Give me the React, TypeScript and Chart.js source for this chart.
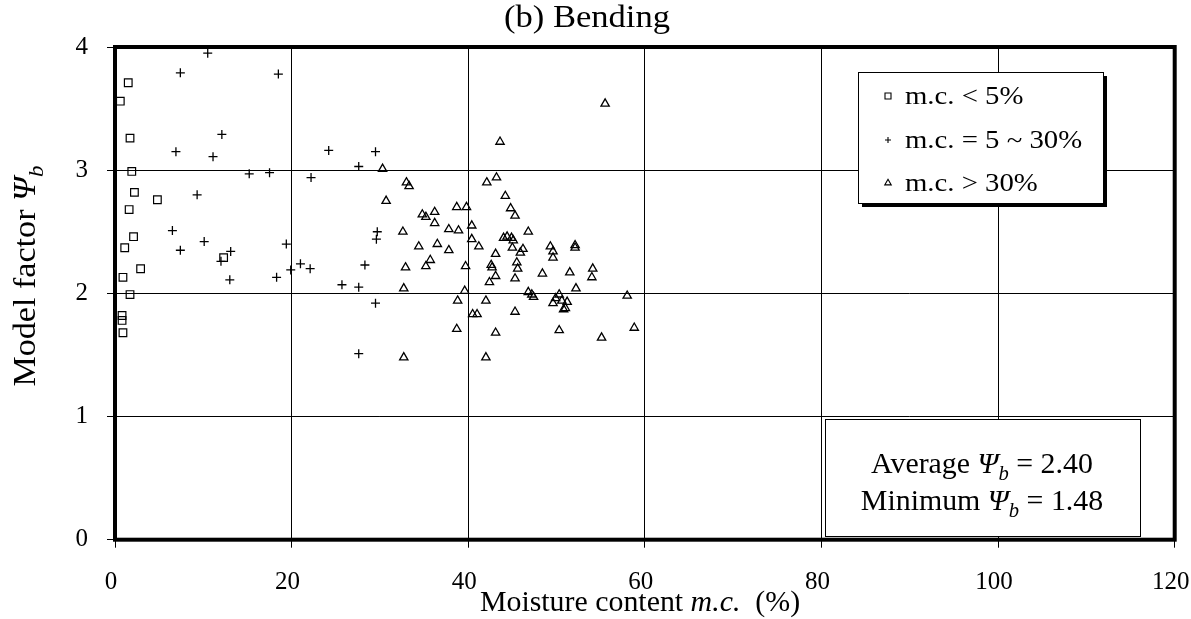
import React, { useEffect, useRef } from 'react';
import { Chart, registerables } from 'chart.js';

Chart.register(...registerables);

// ---- Data ----
const chartTitle = '(b) Bending';
const legendLabels = ['m.c. < 5%', 'm.c. = 5 ~ 30%', 'm.c. > 30%'];
const averageValue = '2.40';
const minimumValue = '1.48';
const xTickValues = [0, 20, 40, 60, 80, 100, 120];
const yTickValues = [0, 1, 2, 3, 4];

// m.c. < 5%
const lowX = [1.5, 0.6, 1.7, 1.9, 2.2, 4.8, 1.6, 2.1, 1.1, 2.9, 0.9, 1.7, 0.8, 0.8, 0.9, 12.3];
const lowY = [3.71, 3.56, 3.26, 2.99, 2.82, 2.76, 2.68, 2.46, 2.37, 2.2, 2.13, 1.99, 1.82, 1.78, 1.68, 2.29];

// m.c. = 5 ~ 30%
const midX = [10.5, 7.4, 18.5, 12.1, 6.9, 11.1, 15.2, 17.5, 9.3, 6.5, 10.1, 7.4, 13.1, 12.0, 13.0, 18.3,
  19.4, 19.9, 21.0, 22.1, 22.2, 24.2, 29.5, 27.6, 29.7, 29.6, 28.3, 25.7, 27.6, 29.5, 27.6];
const midY = [3.95, 3.79, 3.78, 3.29, 3.15, 3.11, 2.97, 2.98, 2.8, 2.51, 2.42, 2.35, 2.34, 2.26, 2.11, 2.13,
  2.4, 2.19, 2.24, 2.2, 2.94, 3.16, 3.15, 3.03, 2.5, 2.44, 2.23, 2.07, 2.05, 1.92, 1.51];

// m.c. > 30%
const highX = [43.6, 55.5, 30.3, 33.0, 33.3, 43.2, 42.1, 30.7, 44.2, 38.7, 39.8, 44.8, 45.3, 34.8, 35.2, 36.2,
  36.2, 40.4, 32.6, 37.8, 38.9, 46.8, 40.4, 44.0, 44.4, 44.9, 45.1, 34.4, 36.5, 41.2, 45.0, 46.2,
  45.9, 37.8, 49.3, 49.6, 49.6, 52.1, 52.1, 35.7, 35.2, 32.9, 43.1, 42.6, 42.7, 39.7, 43.1, 45.5,
  45.6, 48.4, 45.3, 42.4, 32.7, 39.6, 46.8, 47.2, 47.4, 38.8, 42.0, 40.5, 41.0, 45.3, 38.7, 43.1,
  32.7, 42.0, 51.5, 54.1, 54.0, 52.2, 50.3, 49.9, 50.6, 51.2, 49.6, 51.0, 50.8, 58.0, 58.8, 55.1, 50.3];
const highY = [3.23, 3.54, 3.01, 2.9, 2.87, 2.94, 2.9, 2.75, 2.79, 2.7, 2.7, 2.69, 2.63, 2.64, 2.62, 2.66,
  2.57, 2.55, 2.5, 2.52, 2.51, 2.5, 2.44, 2.45, 2.46, 2.45, 2.43, 2.38, 2.4, 2.38, 2.37, 2.36,
  2.33, 2.35, 2.38, 2.34, 2.29, 2.39, 2.37, 2.27, 2.22, 2.21, 2.32, 2.23, 2.21, 2.22, 2.14, 2.25,
  2.2, 2.16, 2.12, 2.09, 2.04, 2.02, 2.01, 1.99, 1.97, 1.94, 1.94, 1.83, 1.83, 1.85, 1.71, 1.68,
  1.48, 1.48, 2.17, 2.2, 2.13, 2.04, 1.99, 1.96, 1.94, 1.93, 1.92, 1.88, 1.87, 1.98, 1.72, 1.64, 1.7];

const toPoints = (xs: number[], ys: number[]) => xs.map((x, i) => ({ x, y: ys[i] }));

const SERIF = "'Liberation Serif', 'Times New Roman', serif";

type Run = { text: string; italic?: boolean; sub?: boolean };

function drawRuns(ctx: CanvasRenderingContext2D, runs: Run[], size: number, scaleX: number) {
  const fontFor = (r: Run) => `${r.italic ? 'italic ' : ''}${r.sub ? Math.round(size * 0.68) : size}px ${SERIF}`;
  let total = 0;
  const widths = runs.map((r) => {
    ctx.font = fontFor(r);
    const w = ctx.measureText(r.text).width;
    total += w;
    return w;
  });
  ctx.save();
  ctx.scale(scaleX, 1);
  let x = -total / 2;
  ctx.textAlign = 'left';
  ctx.textBaseline = 'alphabetic';
  ctx.fillStyle = '#000';
  runs.forEach((r, i) => {
    ctx.font = fontFor(r);
    ctx.fillText(r.text, x, r.sub ? size * 0.25 : 0);
    x += widths[i];
  });
  ctx.restore();
}

function drawMarker(ctx: CanvasRenderingContext2D, kind: number, x: number, y: number, s: number) {
  ctx.save();
  ctx.strokeStyle = '#000';
  ctx.lineWidth = 1.1;
  ctx.beginPath();
  if (kind === 0) {
    ctx.rect(x - s, y - s, 2 * s, 2 * s);
  } else if (kind === 1) {
    ctx.moveTo(x - s, y); ctx.lineTo(x + s, y);
    ctx.moveTo(x, y - s); ctx.lineTo(x, y + s);
  } else {
    const r = s * 1.25;
    ctx.moveTo(x, y - r);
    ctx.lineTo(x + r * Math.sin((2 * Math.PI) / 3), y - r * Math.cos((2 * Math.PI) / 3));
    ctx.lineTo(x + r * Math.sin((4 * Math.PI) / 3), y - r * Math.cos((4 * Math.PI) / 3));
    ctx.closePath();
  }
  ctx.stroke();
  ctx.restore();
}

const framePlugin = {
  id: 'frameAndText',
  beforeDatasetsDraw(chart: any) {
    const { ctx, chartArea } = chart;
    ctx.save();
    ctx.strokeStyle = '#000';
    ctx.lineWidth = 4;
    ctx.strokeRect(chartArea.left, chartArea.top, chartArea.right - chartArea.left, chartArea.bottom - chartArea.top);
    ctx.restore();
  },
  afterDatasetsDraw(chart: any) {
    const { ctx } = chart;
    // Title
    ctx.save();
    ctx.translate(587, 27);
    drawRuns(ctx, [{ text: chartTitle }], 32, 1.08);
    ctx.restore();

    // X axis title
    ctx.save();
    ctx.translate(640, 611);
    drawRuns(ctx, [{ text: 'Moisture content ' }, { text: 'm.c.', italic: true }, { text: '  (%)' }], 29, 1.03);
    ctx.restore();

    // Y axis title
    ctx.save();
    ctx.translate(35, 276);
    ctx.rotate(-Math.PI / 2);
    drawRuns(ctx, [{ text: 'Model factor ' }, { text: 'Ψ', italic: true }, { text: 'b', italic: true, sub: true }], 31, 1.1);
    ctx.restore();

    // Legend box
    const lx = 858, ly = 72, lw = 245, lh = 131;
    ctx.save();
    ctx.fillStyle = '#000';
    ctx.fillRect(lx + 4, ly + 4, lw, lh);
    ctx.fillStyle = '#fff';
    ctx.fillRect(lx, ly, lw, lh);
    ctx.strokeStyle = '#000';
    ctx.lineWidth = 1;
    ctx.strokeRect(lx + 0.5, ly + 0.5, lw, lh);
    ctx.restore();
    const rowsY = [96, 140, 183];
    legendLabels.forEach((label, i) => {
      drawMarker(ctx, i, 888, rowsY[i], 3);
      ctx.save();
      ctx.translate(905, rowsY[i] + 8);
      ctx.font = `25px ${SERIF}`;
      ctx.scale(1.15, 1);
      ctx.fillStyle = '#000';
      ctx.textAlign = 'left';
      ctx.textBaseline = 'alphabetic';
      ctx.fillText(label, 0, 0);
      ctx.restore();
    });

    // Stats box
    const bx = 825, by = 419, bw = 315, bh = 117;
    ctx.save();
    ctx.fillStyle = '#fff';
    ctx.fillRect(bx, by, bw, bh);
    ctx.strokeStyle = '#000';
    ctx.lineWidth = 1;
    ctx.strokeRect(bx + 0.5, by + 0.5, bw, bh);
    ctx.restore();
    ctx.save();
    ctx.translate(982, 473);
    drawRuns(ctx, [{ text: 'Average ' }, { text: 'Ψ', italic: true }, { text: 'b', italic: true, sub: true }, { text: ' = ' + averageValue }], 29, 1.03);
    ctx.restore();
    ctx.save();
    ctx.translate(982, 510);
    drawRuns(ctx, [{ text: 'Minimum ' }, { text: 'Ψ', italic: true }, { text: 'b', italic: true, sub: true }, { text: ' = ' + minimumValue }], 29, 1.03);
    ctx.restore();
  },
};

export default function App() {
  const canvasRef = useRef<HTMLCanvasElement | null>(null);

  useEffect(() => {
    const canvas = canvasRef.current;
    if (!canvas) return;
    const chart = new Chart(canvas, {
      type: 'scatter',
      data: {
        datasets: [
          {
            label: legendLabels[0],
            data: toPoints(lowX, lowY),
            pointStyle: 'rect',
            pointRadius: 5.4,
            pointBorderWidth: 1.2,
            pointBorderColor: '#000',
            pointBackgroundColor: 'rgba(0,0,0,0)',
          },
          {
            label: legendLabels[1],
            data: toPoints(midX, midY),
            pointStyle: 'cross',
            pointRadius: 4.5,
            pointBorderWidth: 1.3,
            pointBorderColor: '#000',
            pointBackgroundColor: 'rgba(0,0,0,0)',
          },
          {
            label: legendLabels[2],
            data: toPoints(highX, highY),
            pointStyle: 'triangle',
            pointRadius: 4.8,
            pointBorderWidth: 1.3,
            pointBorderColor: '#000',
            pointBackgroundColor: 'rgba(0,0,0,0)',
          },
        ],
      },
      options: {
        responsive: false,
        animation: false,
        devicePixelRatio: 1,
        layout: { padding: { left: 0, right: 1191 - 1174.7, top: 47, bottom: 0 } },
        plugins: { legend: { display: false }, title: { display: false }, tooltip: { enabled: false } },
        scales: {
          x: {
            type: 'linear',
            min: 0,
            max: 120,
            afterBuildTicks: (scale: any) => {
              scale.ticks = xTickValues.map((v) => ({ value: v }));
            },
            afterFit: (scale: any) => {
              scale.height = 619 - 539.7;
              scale.paddingLeft = 0;
              scale.paddingRight = 0;
            },
            ticks: { color: '#000', font: { family: SERIF, size: 25 }, padding: 20, maxRotation: 0, labelOffset: -4 },
            grid: { color: '#000', lineWidth: 1, tickLength: 8, drawTicks: true },
            border: { display: false },
          },
          y: {
            type: 'linear',
            min: 0,
            max: 4,
            afterBuildTicks: (scale: any) => {
              scale.ticks = yTickValues.map((v) => ({ value: v }));
            },
            afterFit: (scale: any) => {
              scale.width = 115;
              scale.paddingTop = 0;
              scale.paddingBottom = 0;
            },
            ticks: { color: '#000', font: { family: SERIF, size: 25 }, padding: 19 },
            grid: { color: '#000', lineWidth: 1, tickLength: 8, drawTicks: true },
            border: { display: false },
          },
        },
      },
      plugins: [framePlugin],
    });
    return () => chart.destroy();
  }, []);

  return (
    <div style={{ position: 'fixed', left: 0, top: 0, width: 1191, height: 619, background: '#fff' }}>
      <canvas ref={canvasRef} width={1191} height={619} style={{ display: 'block' }} />
    </div>
  );
}
